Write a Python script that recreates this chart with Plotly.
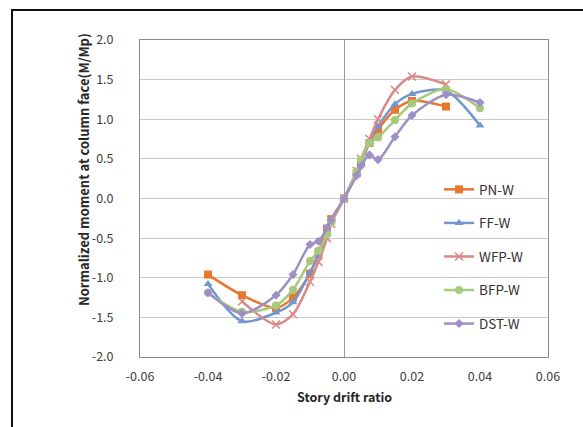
import plotly.graph_objects as go

# Story drift ratio steps of the loading protocol
x_full = [-0.04, -0.03, -0.02, -0.015, -0.01, -0.0075, -0.005, -0.00375, 0.0,
          0.00375, 0.005, 0.0075, 0.01, 0.015, 0.02, 0.03, 0.04]

# Normalized moment at column face (M/Mp) for each specimen
pn_x = x_full[:-1]
pn_y = [-0.96, -1.22, -1.38, -1.25, -0.95, -0.68, -0.38, -0.26, 0.0,
        0.32, 0.45, 0.70, 0.87, 1.12, 1.23, 1.16]

ff_x = x_full
ff_y = [-1.08, -1.55, -1.44, -1.31, -0.93, -0.72, -0.45, -0.30, 0.0,
        0.33, 0.45, 0.72, 0.91, 1.19, 1.32, 1.36, 0.92]

wfp_x = x_full[1:-1]
wfp_y = [-1.30, -1.59, -1.46, -1.05, -0.80, -0.50, -0.32, 0.0,
         0.35, 0.50, 0.75, 1.00, 1.37, 1.54, 1.44]

bfp_x = x_full
bfp_y = [-1.19, -1.43, -1.35, -1.15, -0.79, -0.66, -0.45, -0.30, 0.0,
         0.34, 0.49, 0.70, 0.77, 0.99, 1.20, 1.38, 1.14]

dst_x = x_full
dst_y = [-1.19, -1.45, -1.22, -0.96, -0.58, -0.54, -0.37, -0.27, 0.0,
         0.29, 0.41, 0.55, 0.49, 0.78, 1.05, 1.31, 1.21]

# Axis ticks (hyphen-minus labels)
x_ticks = [-0.06, -0.04, -0.02, 0.0, 0.02, 0.04, 0.06]
x_tick_text = ["-0.06", "-0.04", "-0.02", "0.00", "0.02", "0.04", "0.06"]
y_ticks = [-2.0, -1.5, -1.0, -0.5, 0.0, 0.5, 1.0, 1.5, 2.0]
y_tick_text = ["-2.0", "-1.5", "-1.0", "-0.5", "0.0", "0.5", "1.0", "1.5", "2.0"]

names = ["PN-W", "FF-W", "WFP-W", "BFP-W", "DST-W"]
xs = [pn_x, ff_x, wfp_x, bfp_x, dst_x]
ys = [pn_y, ff_y, wfp_y, bfp_y, dst_y]
colors = ["#E8772F", "#7297CF", "#DD8888", "#A6C97C", "#9E90C6"]
symbols = ["square", "triangle-up", "x-thin", "circle", "diamond"]
sizes = [8, 8, 8, 8, 7]

FONT = "Noto Sans CJK KR, Noto Sans, sans-serif"

fig = go.Figure()
for n, xv, yv, c, s, sz in zip(names, xs, ys, colors, symbols, sizes):
    fig.add_trace(go.Scatter(
        x=xv, y=yv, name=n, mode="lines+markers",
        line=dict(color=c, width=2.5, shape="spline", smoothing=0.8),
        marker=dict(symbol=s, size=sz, color=c,
                    line=dict(color=c, width=1.5 if s == "x-thin" else 0)),
        legendgroup=n,
    ))

fig.update_layout(
    width=583, height=427,
    margin=dict(l=140, r=35, t=40, b=70),
    paper_bgcolor="white", plot_bgcolor="white",
    font=dict(family=FONT, size=12, color="#404040"),
    showlegend=True,
    legend=dict(x=0.733, y=0.577, xanchor="left", yanchor="top",
                bgcolor="rgba(0,0,0,0)", tracegroupgap=13, itemwidth=30,
                font=dict(size=13.5, color="#333333")),
    xaxis=dict(range=[-0.06, 0.06], tickvals=x_ticks, ticktext=x_tick_text,
               showgrid=False, zeroline=True, zerolinecolor="#9a9a9a", zerolinewidth=1,
               showline=True, linecolor="#8c8c8c", linewidth=1, mirror=True,
               ticks="", ticklabelstandoff=8,
               tickfont=dict(size=12.5, color="#404040")),
    yaxis=dict(range=[-2.0, 2.0], tickvals=y_ticks, ticktext=y_tick_text,
               showgrid=True, gridcolor="#c8c8c8", gridwidth=1,
               zeroline=False,
               showline=True, linecolor="#8c8c8c", linewidth=1, mirror=True,
               ticks="", ticklabelstandoff=23,
               tickfont=dict(size=12.5, color="#404040")),
    shapes=[dict(type="rect", xref="paper", yref="paper",
                 x0=-0.3137, x1=1.2, y0=-0.3, y1=1.0946,
                 line=dict(color="#111111", width=2), layer="below")],
    annotations=[
        dict(text="<b>Story drift ratio</b>", xref="paper", yref="paper",
             x=0.5, y=-0.124, xanchor="center", yanchor="middle", showarrow=False,
             font=dict(size=12.5, color="#262626", family=FONT)),
        dict(text="<b>Normalized moment at column face(M/Mp)</b>", xref="paper", yref="paper",
             x=-0.137, y=0.59, xanchor="center", yanchor="middle", showarrow=False,
             textangle=-90, font=dict(size=13, color="#262626", family=FONT)),
    ],
)

fig.write_html("out.html")
